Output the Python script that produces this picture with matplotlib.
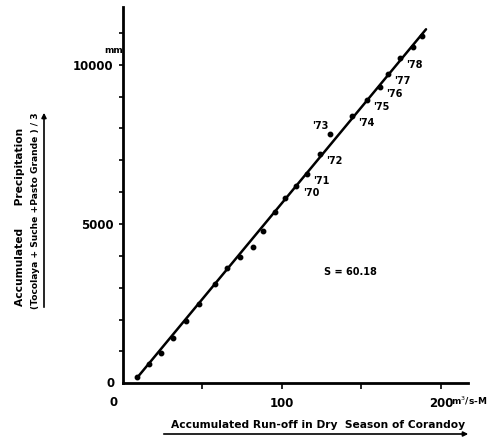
import matplotlib
matplotlib.use("Agg")
from matplotlib import pyplot as plt
from matplotlib.patches import FancyArrowPatch

# Accumulated run-off (m3/s-M) and accumulated precipitation (mm)
runoff = [8.6, 16.4, 24.1, 31.6, 39.4, 47.5, 57.7, 65.7, 73.8, 81.8, 88.1, 95.9,
          102.2, 109.1, 115.6, 123.6, 130.0, 143.8, 153.2, 161.6, 166.9, 174.4,
          182.2, 187.8]
precip = [207, 596, 960, 1412, 1955, 2479, 3116, 3627, 3972, 4286, 4788, 5375,
          5805, 6191, 6558, 7185, 7822, 8387, 8889, 9288, 9705, 10198, 10562, 10898]

# year labels attached to points (index into the arrays above)
year_idx = [13, 14, 15, 17, 18, 19, 20, 21]
year_txt = ["'70", "'71", "'72", "'74", "'75", "'76", "'77", "'78"]
odd_idx, odd_txt = 16, "'73"

slope = 60.18
intercept = -360
line_x = [8.8, 190.6]

FONT = dict(family="DejaVu Sans", fontweight="bold", color="black")


def main():
    fig = plt.figure(figsize=(4.93, 4.43), dpi=100)
    ax = fig.add_axes([123 / 493, 59.7 / 443, 345 / 493, 376 / 443])
    ax.set_xlim(0, 217)
    ax.set_ylim(0, 11800)

    for s in ("top", "right"):
        ax.spines[s].set_visible(False)
    for s in ("left", "bottom"):
        ax.spines[s].set_linewidth(2)

    ax.set_xticks([50, 100, 150, 200])
    ax.set_xticklabels(["", "100", "", "200"], fontsize=8.5, **FONT)
    yt = list(range(1000, 12000, 1000))
    ax.set_yticks(yt)
    ax.set_yticklabels([str(v) if v in (5000, 10000) else "" for v in yt],
                       fontsize=8.5, **FONT)
    ax.tick_params(axis="x", length=4, width=1.2, pad=6)
    ax.tick_params(axis="y", length=3, width=1.2, pad=4)

    # zero labels sit apart from the axes corner
    ax.text(-8, 0, "0", ha="center", va="center", fontsize=8.5, **FONT)
    ax.text(-6, -600, "0", ha="center", va="center", fontsize=8.5, **FONT)
    ax.text(-6, 10300, "mm", ha="center", va="bottom", fontsize=6.5, **FONT)
    ax.text(206, -560, r"m$^3$/s-M", ha="left", va="center", fontsize=6.5,
            clip_on=False, **FONT)

    fit_y = [slope * x + intercept for x in line_x]
    ax.plot(line_x, fit_y, color="black", lw=1.8, solid_capstyle="round")
    ax.plot(runoff, precip, "o", color="black", ms=3.2, clip_on=False)

    for i, t in zip(year_idx, year_txt):
        ax.annotate(t, (runoff[i], precip[i]), xytext=(4.5, -5),
                    textcoords="offset points", ha="left", va="center",
                    fontsize=7, **FONT)
    ax.annotate(odd_txt, (runoff[odd_idx], precip[odd_idx]), xytext=(-1, 2),
                textcoords="offset points", ha="right", va="bottom",
                fontsize=7, **FONT)

    ax.text(143, 3500, "S = 60.18", ha="center", va="center", fontsize=7, **FONT)

    # x label, underlined with an arrow to the right
    fig.text(318 / 493, 1 - 425 / 443, "Accumulated Run-off in Dry  Season of Corandoy",
             ha="center", va="center", fontsize=7.7, **FONT)
    fig.add_artist(FancyArrowPatch(
        (161 / 493, 1 - 434 / 443), (471 / 493, 1 - 434 / 443),
        transform=fig.transFigure, arrowstyle="-|>", mutation_scale=7,
        color="black", lw=1.2))

    # y label in two lines, underlined with an arrow upward
    fig.text(20 / 493, 1 - 217 / 443, "Accumulated      Precipitation",
             ha="center", va="center", rotation=90, fontsize=7.7, **FONT)
    fig.text(36 / 493, 1 - 211 / 443, "(Tocolaya + Suche +Pasto Grande ) / 3",
             ha="center", va="center", rotation=90, fontsize=6.6, **FONT)
    fig.add_artist(FancyArrowPatch(
        (44 / 493, 1 - 310 / 443), (44 / 493, 1 - 110 / 443),
        transform=fig.transFigure, arrowstyle="-|>", mutation_scale=7,
        color="black", lw=1.2))

    fig.savefig("out.png", dpi=100)


if __name__ == "__main__":
    main()
